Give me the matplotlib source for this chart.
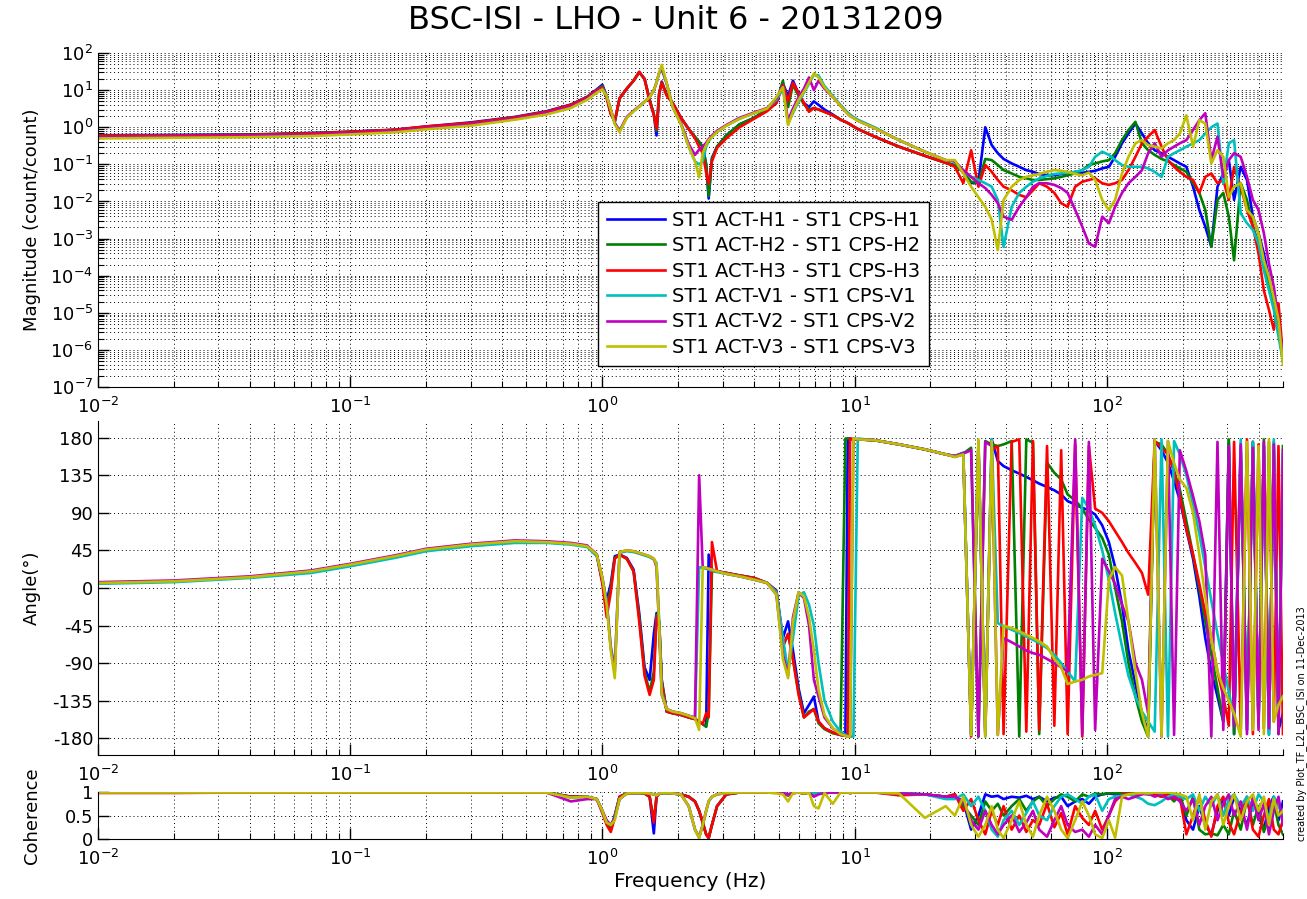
import matplotlib
matplotlib.use('Agg')
import matplotlib.pyplot as plt
from matplotlib.ticker import LogLocator, FixedLocator, NullFormatter
import numpy as np

plt.rcParams['font.family'] = 'DejaVu Sans'
plt.rcParams['mathtext.default'] = 'regular'
plt.rcParams['axes.unicode_minus'] = False

# frequency points (Hz)
freq = [
    0.01, 0.02, 0.04, 0.07, 0.1, 0.15, 0.2, 0.3, 0.45, 0.6,
    0.75, 0.87, 0.95, 1.0, 1.04, 1.08, 1.12, 1.17, 1.25, 1.33,
    1.4, 1.47, 1.54, 1.6, 1.64, 1.68, 1.72, 1.8, 1.9, 2.05,
    2.2, 2.33, 2.42, 2.5, 2.58, 2.64, 2.72, 2.85, 3.1, 3.5,
    4.0, 4.5, 4.9, 5.2, 5.45, 5.7, 6.0, 6.3, 6.6, 6.9,
    7.2, 7.6, 8.2, 8.8, 9.2, 9.4, 9.6, 9.9, 10.3, 12,
    15, 19, 23, 25, 27, 29, 31, 33, 35, 37,
    39, 42, 45, 48, 51, 54, 58, 62, 66, 70,
    75, 80, 85, 90, 96, 102, 108, 115, 122, 130,
    138, 146, 155, 165, 175, 185, 195, 207, 220, 233,
    246, 260, 275, 290, 305, 320, 340, 360, 380, 400,
    420, 440, 460, 480, 500]

# magnitude (count/count)
mag_h1 = [
    0.61, 0.62, 0.64, 0.7, 0.76, 0.86, 1.05, 1.35, 1.9, 2.7,
    4.1, 6.6, 10.5, 14, 7.0, 2.4, 1.4, 6.0, 11, 18,
    31, 20, 5.5, 2.2, 0.6, 8, 17, 7.5, 4.5, 1.8,
    0.9, 0.55, 0.4, 0.3, 0.1, 0.012, 0.15, 0.3, 0.6, 1.2,
    1.8, 3.0, 4.5, 15, 7.0, 18, 8, 4.5, 3.5, 5.0,
    4.0, 3.0, 2.2, 1.6, 1.4, 1.3, 1.2, 1.05, 0.9, 0.56,
    0.3, 0.17, 0.11, 0.095, 0.063, 0.031, 0.034, 1.0, 0.33, 0.2,
    0.14, 0.106, 0.086, 0.07, 0.063, 0.055, 0.051, 0.051, 0.055, 0.057,
    0.059, 0.059, 0.063, 0.067, 0.078, 0.086, 0.16, 0.37, 0.68, 1.26,
    0.68, 0.37, 0.24, 0.2, 0.16, 0.13, 0.106, 0.086, 0.025, 0.0059,
    0.0021, 6e-4, 0.025, 0.057, 0.13, 0.011, 0.086, 0.038, 0.0039, 0.0014,
    4e-4, 9e-5, 1.8e-5, 3.5e-6, 6e-7]
mag_h2 = [
    0.6, 0.61, 0.63, 0.69, 0.75, 0.85, 1.02, 1.3, 1.85, 2.6,
    4.0, 6.4, 10, 13, 7.0, 2.4, 1.4, 6.0, 11, 18,
    30, 20, 5.5, 2.2, 0.8, 8, 16, 7.5, 4.5, 1.8,
    0.9, 0.55, 0.4, 0.3, 0.1, 0.014, 0.14, 0.3, 0.6, 1.2,
    1.8, 3.0, 4.8, 18, 3.5, 14, 7, 4.2, 3.0, 3.3,
    3.0, 2.6, 2.1, 1.6, 1.4, 1.3, 1.2, 1.05, 0.9, 0.56,
    0.3, 0.17, 0.11, 0.095, 0.063, 0.034, 0.031, 0.14, 0.13, 0.096,
    0.07, 0.057, 0.046, 0.042, 0.038, 0.038, 0.04, 0.042, 0.046, 0.051,
    0.057, 0.07, 0.096, 0.106, 0.12, 0.13, 0.2, 0.45, 0.84, 1.4,
    0.37, 0.24, 0.18, 0.14, 0.12, 0.096, 0.078, 0.063, 0.031, 0.017,
    0.0059, 6e-4, 0.011, 0.017, 0.0039, 2.6e-4, 0.031, 0.011, 0.0021, 7.4e-4,
    2.1e-4, 6e-5, 1.8e-5, 3.5e-6, 5e-7]
mag_h3 = [
    0.59, 0.6, 0.62, 0.68, 0.75, 0.85, 1.05, 1.3, 1.85, 2.6,
    4.0, 6.4, 10, 12, 6.0, 2.2, 1.5, 6.0, 11, 18,
    31, 20, 5.0, 2.2, 0.9, 8, 16, 7.0, 4.5, 1.8,
    0.9, 0.5, 0.3, 0.2, 0.06, 0.03, 0.12, 0.28, 0.5, 1.0,
    1.7, 2.7, 4.5, 14, 5.0, 16, 8, 4.5, 2.6, 3.3,
    3.0, 2.6, 2.1, 1.6, 1.4, 1.3, 1.2, 1.05, 0.9, 0.56,
    0.3, 0.17, 0.11, 0.086, 0.031, 0.24, 0.025, 0.096, 0.063, 0.038,
    0.025, 0.02, 0.015, 0.013, 0.02, 0.031, 0.025, 0.017, 0.009, 0.0072,
    0.025, 0.034, 0.038, 0.042, 0.031, 0.028, 0.031, 0.038, 0.07, 0.16,
    0.37, 0.56, 0.84, 0.3, 0.13, 0.086, 0.063, 0.046, 0.038, 0.017,
    0.046, 0.057, 0.031, 0.038, 0.011, 0.086, 0.025, 0.0059, 0.0021, 4e-4,
    4e-5, 1.2e-5, 3.5e-6, 1.8e-5, 7e-7]
mag_v1 = [
    0.53, 0.55, 0.57, 0.61, 0.67, 0.76, 0.92, 1.15, 1.65, 2.3,
    3.4, 5.6, 8.8, 11, 7, 3, 1.3, 0.8, 1.8, 2.7,
    3.6, 4.8, 6.5, 10, 16, 28, 35, 15, 3.5, 1.2,
    0.3, 0.12, 0.1, 0.12, 0.3, 0.42, 0.55, 0.75, 1.1, 1.7,
    2.4, 3.2, 5.5, 11, 1.3, 2.4, 5.0, 8.5, 15, 26,
    25, 13, 7, 4.0, 2.9, 2.5, 2.2, 1.9, 1.6, 1.0,
    0.45, 0.22, 0.13, 0.12, 0.063, 0.046, 0.038, 0.031, 0.025, 0.011,
    6e-4, 0.0072, 0.017, 0.025, 0.034, 0.042, 0.049, 0.055, 0.057, 0.059,
    0.063, 0.07, 0.086, 0.16, 0.22, 0.18, 0.13, 0.096, 0.086, 0.086,
    0.086, 0.078, 0.063, 0.046, 0.16, 0.2, 0.24, 0.3, 0.37, 0.45,
    0.68, 1.0, 1.26, 0.031, 0.37, 0.45, 0.0048, 0.0026, 0.0017, 7.4e-4,
    1.4e-4, 4e-5, 1.2e-5, 2.3e-6, 5e-7]
mag_v2 = [
    0.55, 0.57, 0.59, 0.63, 0.69, 0.78, 0.94, 1.2, 1.7, 2.4,
    3.6, 5.9, 9.2, 11, 7, 3, 1.3, 0.8, 1.9, 2.8,
    3.7, 4.9, 6.6, 10, 16, 30, 40, 15, 3.6, 1.3,
    0.35, 0.18, 0.25, 0.3, 0.38, 0.48, 0.6, 0.8, 1.15, 1.8,
    2.5, 3.3, 6, 13, 1.5, 3.2, 6.5, 11, 22, 10,
    18, 11, 6.5, 3.8, 2.7, 2.3, 2.0, 1.8, 1.5, 0.95,
    0.45, 0.22, 0.13, 0.12, 0.07, 0.046, 0.031, 0.023, 0.015, 0.009,
    0.0039, 0.0032, 0.0072, 0.013, 0.025, 0.031, 0.031, 0.028, 0.023, 0.017,
    0.0059, 0.0021, 7.4e-4, 6e-4, 0.0039, 0.0026, 0.0072, 0.017, 0.031, 0.046,
    0.07, 0.2, 0.37, 0.16, 0.24, 0.3, 0.37, 0.45, 0.84, 1.55,
    2.4, 0.13, 0.56, 0.046, 0.13, 0.2, 0.16, 0.046, 0.011, 0.0059,
    0.0014, 2.1e-4, 5e-5, 6.5e-6, 7e-7]
mag_v3 = [
    0.5, 0.52, 0.54, 0.58, 0.64, 0.73, 0.88, 1.1, 1.6, 2.2,
    3.3, 5.5, 8.5, 10.5, 7, 3, 1.2, 0.74, 1.8, 2.7,
    3.6, 4.8, 6.5, 10, 16, 30, 48, 15, 3.5, 1.2,
    0.3, 0.12, 0.045, 0.2, 0.33, 0.45, 0.55, 0.75, 1.1, 1.7,
    2.4, 3.2, 6.5, 12, 1.15, 2.6, 5.5, 9, 16, 28,
    22, 12, 6.5, 3.8, 2.7, 2.3, 2.0, 1.8, 1.5, 0.95,
    0.45, 0.22, 0.13, 0.13, 0.057, 0.025, 0.013, 0.0072, 0.0032, 4.9e-4,
    0.011, 0.025, 0.038, 0.046, 0.051, 0.055, 0.063, 0.07, 0.067, 0.063,
    0.055, 0.051, 0.06, 0.038, 0.011, 0.0059, 0.011, 0.057, 0.16, 0.37,
    0.45, 0.33, 0.3, 0.27, 0.37, 0.45, 0.68, 2.1, 0.3, 1.55,
    1.26, 0.106, 0.24, 0.16, 0.013, 0.025, 0.031, 0.0059, 0.0039, 0.0014,
    2.6e-4, 9e-5, 2.5e-5, 6.5e-6, 4e-7]

# phase (deg)
ph_h1 = [
    6, 8, 13, 20, 28, 38, 46, 52, 56, 55,
    53, 50, 40, 8, -15, 5, 38, 40, 36, 22,
    -30, -95, -110, -55, -30, -40, -110, -148, -150, -152,
    -155, -157, -160, -163, -166, 40, 22, 20, 18, 15,
    12, 6, -3, -60, -40, -75, -120, -150, -140, -130,
    -160, -168, -173, -176, -177, 179, 179, 178, 178, 177,
    172, 166, 160, 158, 162, -175, 170, -172, 178, 152,
    146, 141, 137, 133, 129, 125, 121, 117, 112, 104,
    100, 96, 93, 88, 75, 55, 25, -20, -75, -115,
    -150, -172, 176, 165, 150, 128, 105, 70, 35, -10,
    -60, -100, -130, -160, 175, -175, 160, -170, 175, -160,
    170, -175, 165, -170, -150]
ph_h2 = [
    6, 8, 13, 20, 28, 38, 46, 52, 56, 55,
    53, 50, 40, 8, -25, 0, 36, 40, 35, 20,
    -35, -100, -125, -100, -32, -42, -112, -148, -150, -152,
    -155, -157, -160, -163, -166, -150, 20, 20, 18, 15,
    12, 6, -4, -70, -55, -85, -125, -155, -148, -145,
    -162, -169, -174, -176, 179, 179, 178, 178, 178, 177,
    172, 166, 160, 158, 161, 168, -178, 176, 172, 170,
    172, 176, -178, 178, 174, -175, 150, 138, 130, 112,
    105, 95, 82, 72, 60, 40, 0, -40, -90, -130,
    -160, -178, 175, 172, 160, 140, 118, 80, 40, 0,
    -40, -80, -120, -160, 178, -175, 170, -160, 175, -165,
    178, -170, 175, -175, 170]
ph_h3 = [
    6, 8, 13, 20, 28, 38, 46, 52, 56, 55,
    53, 50, 40, 5, -35, -5, 35, 40, 35, 20,
    -40, -105, -128, -110, -35, -45, -115, -148, -150, -152,
    -155, -157, -160, -163, -150, -155, 55, 20, 18, 15,
    12, 6, -4, -70, -55, -85, -128, -155, -150, -145,
    -160, -168, -173, -176, -177, -177, 179, 178, 178, 177,
    172, 166, 160, 157, 160, -178, 176, -176, 165, 170,
    -175, 175, 178, -172, 176, -170, 170, -165, 165, -175,
    172, -178, 170, 95, 90, 80, 68, 55, 42, 30,
    18, -8, 176, 168, 160, 140, 110, 70, 40, 5,
    -30, -60, -100, -130, -165, 175, -170, 178, -175, 172,
    -168, 175, -160, 170, -175]
ph_v1 = [
    5, 7, 12, 18, 26, 36, 44, 50, 54, 54,
    52, 49, 38, 12, -15, -70, -95, 42, 44, 43,
    41, 39, 37, 34, 30, -40, -125, -145, -148, -150,
    -153, -156, 25, 24, 23, 22, 21, 19, 17, 14,
    10, 6, -5, -60, -100, -60, -10, -5, -20, -45,
    -90, -135, -160, -172, -176, -177, -178, -178, 179, 177,
    172, 166, 160, 158, 161, -176, 175, -178, 178, -42,
    -46, -50, -54, -58, -62, -66, -72, -80, -90, -100,
    -112, 108, 95, 75, 45, 10, -30, -70, -105, -130,
    -148, -160, -172, 178, -178, 176, 160, 135, 100, 65,
    25, -15, -55, -90, -125, -155, 178, -170, 175, -165,
    170, -176, 178, -160, 160]
ph_v2 = [
    7, 9, 14, 21, 29, 39, 47, 53, 57, 56,
    54, 51, 40, 12, -18, -72, -100, 43, 45, 44,
    42, 40, 38, 35, 25, -50, -128, -145, -148, -150,
    -153, -155, 135, 25, 24, 23, 22, 20, 17, 14,
    10, 6, -8, -80, -105, -35, -5, -12, -45, -110,
    -130, -155, -168, -175, -177, -178, -178, 179, 178, 177,
    172, 166, 160, 158, 161, 165, -178, 175, 170, -176,
    -60, -65, -70, -75, -78, -80, -85, -90, -95, -100,
    178, -175, 175, -170, 35, 20, 5, -20, -40, -90,
    -110, -150, 178, -178, 176, -176, 165, 140, 110, 80,
    40, -178, 175, -170, 170, -165, 172, -175, 168, -170,
    175, -168, 172, -175, 165]
ph_v3 = [
    6, 8, 13, 20, 28, 38, 46, 52, 56, 55,
    53, 50, 40, 12, -20, -75, -108, 43, 45, 44,
    42, 40, 38, 35, 28, -45, -128, -145, -148, -150,
    -153, -156, -170, 25, 24, 23, 22, 20, 17, 14,
    10, 6, -8, -85, -108, -40, -5, -10, -35, -75,
    -122, -152, -168, -175, -177, -178, -178, 179, 178, 177,
    172, 166, 160, 157, 160, -176, 178, -178, 176, -176,
    -45, -48, -52, -56, -60, -64, -70, -85, -95, -115,
    -112, -110, -106, -104, -102, 10, 25, 15, -40, -100,
    -150, -178, 178, -178, 176, 150, 130, 120, 90, 40,
    -10, -60, -100, -120, -135, -150, -178, 175, -170, 170,
    -175, 178, -160, -140, -130]

# coherence
coh_h1 = [
    0.99, 0.99, 0.99, 0.99, 0.99, 0.99, 0.99, 0.99, 0.99, 0.99,
    0.9, 0.9, 0.85, 0.6, 0.35, 0.2, 0.5, 0.9, 0.97, 0.98,
    0.98, 0.97, 0.9, 0.12, 0.9, 0.97, 0.98, 0.98, 0.97, 0.95,
    0.9, 0.8, 0.6, 0.35, 0.1, 0.02, 0.3, 0.7, 0.95, 0.99,
    0.99, 0.99, 0.99, 0.97, 0.93, 0.98, 0.99, 0.97, 0.99, 0.95,
    0.98, 0.98, 0.99, 0.99, 0.99, 0.99, 0.98, 0.99, 0.99, 0.99,
    0.97, 0.95, 0.9, 0.9, 0.8, 0.2, 0.5, 0.95, 0.9, 0.92,
    0.85, 0.9, 0.88, 0.92, 0.85, 0.9, 0.8, 0.88, 0.9, 0.7,
    0.8, 0.85, 0.75, 0.9, 0.95, 0.97, 0.95, 0.97, 0.98, 0.99,
    0.97, 0.95, 0.97, 0.96, 0.95, 0.9, 0.92, 0.4, 0.2, 0.7,
    0.3, 0.1, 0.6, 0.85, 0.5, 0.9, 0.6, 0.3, 0.8, 0.5,
    0.2, 0.7, 0.9, 0.4, 0.8]
coh_h2 = [
    0.99, 0.99, 0.99, 0.99, 0.99, 0.99, 0.99, 0.99, 0.99, 0.99,
    0.9, 0.9, 0.85, 0.6, 0.35, 0.22, 0.5, 0.9, 0.97, 0.98,
    0.98, 0.97, 0.9, 0.4, 0.9, 0.97, 0.98, 0.98, 0.97, 0.95,
    0.9, 0.8, 0.6, 0.35, 0.1, 0.03, 0.3, 0.7, 0.95, 0.99,
    0.99, 0.99, 0.99, 0.97, 0.93, 0.98, 0.99, 0.97, 0.99, 0.95,
    0.98, 0.98, 0.99, 0.99, 0.99, 0.99, 0.98, 0.99, 0.99, 0.99,
    0.97, 0.95, 0.9, 0.95, 0.7, 0.5, 0.3, 0.8, 0.6, 0.75,
    0.5, 0.7, 0.85, 0.6, 0.8, 0.9, 0.7, 0.85, 0.95, 0.9,
    0.8, 0.95, 0.9, 0.97, 0.95, 0.98, 0.97, 0.98, 0.99, 0.99,
    0.97, 0.96, 0.95, 0.9, 0.93, 0.8, 0.95, 0.5, 0.9, 0.2,
    0.1, 0.12, 0.08, 0.3, 0.1, 0.6, 0.2, 0.85, 0.3, 0.7,
    0.15, 0.5, 0.8, 0.3, 0.1]
coh_h3 = [
    0.98, 0.98, 0.99, 0.99, 0.99, 0.99, 0.99, 0.99, 0.99, 0.99,
    0.9, 0.9, 0.85, 0.55, 0.3, 0.15, 0.45, 0.9, 0.97, 0.98,
    0.98, 0.97, 0.9, 0.35, 0.9, 0.97, 0.98, 0.98, 0.97, 0.95,
    0.9, 0.8, 0.6, 0.35, 0.1, 0.02, 0.3, 0.7, 0.95, 0.99,
    0.99, 0.99, 0.99, 0.97, 0.93, 0.98, 0.99, 0.97, 0.99, 0.95,
    0.98, 0.98, 0.99, 0.99, 0.99, 0.99, 0.98, 0.99, 0.99, 0.99,
    0.93, 0.95, 0.9, 0.95, 0.6, 0.85, 0.4, 0.1, 0.6, 0.3,
    0.7, 0.2, 0.5, 0.15, 0.4, 0.3, 0.75, 0.25, 0.55, 0.1,
    0.7, 0.45, 0.3, 0.6, 0.2, 0.5, 0.8, 0.95, 0.97, 0.95,
    0.97, 0.98, 0.95, 0.9, 0.95, 0.85, 0.9, 0.1, 0.5, 0.9,
    0.4, 0.05, 0.7, 0.9, 0.35, 0.1, 0.6, 0.9, 0.2, 0.05,
    0.5, 0.85, 0.2, 0.1, 0.4]
coh_v1 = [
    0.99, 0.99, 0.99, 0.99, 0.99, 0.99, 0.99, 0.99, 0.99, 0.99,
    0.88, 0.9, 0.85, 0.6, 0.35, 0.3, 0.45, 0.85, 0.97, 0.98,
    0.98, 0.98, 0.97, 0.95, 0.93, 0.97, 0.98, 0.98, 0.97, 0.95,
    0.7, 0.2, 0.02, 0.3, 0.6, 0.8, 0.9, 0.95, 0.98, 0.99,
    0.99, 0.99, 0.99, 0.98, 0.95, 0.98, 0.99, 0.98, 0.99, 0.97,
    0.97, 0.98, 0.99, 0.99, 0.99, 0.99, 0.98, 0.99, 0.99, 0.99,
    0.97, 0.95, 0.85, 0.85, 0.95, 0.7, 0.9, 0.6, 0.2, 0.05,
    0.4, 0.6, 0.3, 0.55, 0.8, 0.5, 0.4, 0.7, 0.9, 0.95,
    0.85, 0.75, 0.9, 0.95, 0.6, 0.85, 0.9, 0.92, 0.95, 0.9,
    0.85, 0.75, 0.72, 0.8, 0.9, 0.95, 0.9, 0.85, 0.95, 0.6,
    0.9, 0.7, 0.95, 0.5, 0.85, 0.95, 0.7, 0.9, 0.6, 0.95,
    0.8, 0.4, 0.9, 0.7, 0.5]
coh_v2 = [
    0.99, 0.99, 0.99, 0.99, 0.99, 0.99, 0.99, 0.99, 0.99, 0.99,
    0.8, 0.85, 0.85, 0.6, 0.4, 0.3, 0.45, 0.85, 0.97, 0.98,
    0.98, 0.98, 0.97, 0.95, 0.93, 0.97, 0.98, 0.98, 0.97, 0.95,
    0.7, 0.2, 0.05, 0.3, 0.6, 0.8, 0.9, 0.95, 0.98, 0.99,
    0.99, 0.99, 0.99, 0.98, 0.95, 0.98, 0.99, 0.98, 0.99, 0.9,
    0.95, 0.98, 0.99, 0.99, 0.99, 0.99, 0.98, 0.99, 0.99, 0.99,
    0.97, 0.95, 0.9, 0.9, 0.8, 0.4, 0.2, 0.6, 0.3, 0.1,
    0.3, 0.5, 0.15, 0.35, 0.6, 0.2, 0.05, 0.4, 0.7, 0.3,
    0.15, 0.2, 0.05, 0.3, 0.1, 0.5, 0.85, 0.9, 0.85, 0.9,
    0.95, 0.97, 0.9, 0.95, 0.85, 0.9, 0.8, 0.6, 0.85, 0.3,
    0.7, 0.9, 0.4, 0.75, 0.95, 0.5, 0.8, 0.2, 0.9, 0.4,
    0.75, 0.1, 0.6, 0.9, 0.3]
coh_v3 = [
    0.99, 0.99, 0.99, 0.99, 0.99, 0.99, 0.99, 0.99, 0.99, 0.99,
    0.88, 0.9, 0.85, 0.6, 0.35, 0.3, 0.4, 0.85, 0.97, 0.98,
    0.98, 0.98, 0.97, 0.95, 0.93, 0.97, 0.98, 0.98, 0.97, 0.95,
    0.7, 0.2, 0.02, 0.3, 0.6, 0.8, 0.9, 0.95, 0.98, 0.99,
    0.99, 0.99, 0.97, 0.95, 0.8, 0.98, 0.99, 0.97, 0.99, 0.7,
    0.65, 0.98, 0.75, 0.99, 0.99, 0.99, 0.98, 0.99, 0.99, 0.99,
    0.97, 0.45, 0.7, 0.5, 0.9, 0.3, 0.05, 0.3, 0.7, 0.2,
    0.02, 0.4, 0.8, 0.3, 0.05, 0.5, 0.9, 0.6, 0.2, 0.02,
    0.4, 0.8, 0.5, 0.1, 0.02, 0.4, 0.03, 0.9, 0.95, 0.97,
    0.98, 0.97, 0.99, 0.98, 0.99, 0.97, 0.95, 0.9, 0.4, 0.95,
    0.2, 0.8, 0.95, 0.3, 0.7, 0.95, 0.4, 0.8, 0.95, 0.6,
    0.9, 0.3, 0.85, 0.5, 0.6]

labels = ['ST1 ACT-H1 - ST1 CPS-H1', 'ST1 ACT-H2 - ST1 CPS-H2',
          'ST1 ACT-H3 - ST1 CPS-H3', 'ST1 ACT-V1 - ST1 CPS-V1',
          'ST1 ACT-V2 - ST1 CPS-V2', 'ST1 ACT-V3 - ST1 CPS-V3']
mags = [mag_h1, mag_h2, mag_h3, mag_v1, mag_v2, mag_v3]
phases = [ph_h1, ph_h2, ph_h3, ph_v1, ph_v2, ph_v3]
cohs = [coh_h1, coh_h2, coh_h3, coh_v1, coh_v2, coh_v3]
colors = ['#0000ff', '#008000', '#ff0000', '#00bfbf', '#bf00bf', '#bfbf00']

fig = plt.figure(figsize=(13.07, 8.99), dpi=100)
ax_mag = fig.add_axes([0.075, 0.5695, 0.9066, 0.3715])
ax_ph = fig.add_axes([0.075, 0.1602, 0.9066, 0.3715])
ax_coh = fig.add_axes([0.075, 0.0667, 0.9066, 0.0523])

lines = []
for m, p, c, col, lab in zip(mags, phases, cohs, colors, labels):
    l, = ax_mag.plot(freq, m, color=col, lw=1.9, label=lab)
    lines.append(l)
    ax_ph.plot(freq, p, color=col, lw=1.9)
    ax_coh.plot(freq, c, color=col, lw=1.9)

dots = (0, (1, 3))
for ax in [ax_mag, ax_ph, ax_coh]:
    ax.set_xscale('log')
    ax.set_xlim(0.01, 500)
    ax.spines['top'].set_visible(False)
    ax.spines['right'].set_visible(False)
    ax.xaxis.set_major_locator(FixedLocator([0.01, 0.1, 1, 10, 100]))
    ax.xaxis.set_minor_locator(LogLocator(base=10, subs=np.arange(2, 10), numticks=30))
    ax.xaxis.set_minor_formatter(NullFormatter())
    ax.tick_params(which='both', direction='in', top=False, right=False, labelsize=13)
    ax.tick_params(which='major', length=8, width=1)
    ax.tick_params(which='minor', length=4, width=0.8)
    ax.tick_params(axis='x', pad=7)
    ax.grid(True, which='both', linestyle=dots, color='k', linewidth=0.7)
    ax.yaxis.set_label_coords(-0.048, 0.5)

ax_mag.set_yscale('log')
ax_mag.set_ylim(1e-7, 1e2)
ax_mag.yaxis.set_major_locator(FixedLocator([1e-7, 1e-6, 1e-5, 1e-4, 1e-3, 1e-2, 1e-1, 1, 10, 100]))
ax_mag.yaxis.set_minor_locator(LogLocator(base=10, subs=np.arange(2, 10), numticks=30))
ax_mag.yaxis.set_minor_formatter(NullFormatter())
ax_mag.set_ylabel('Magnitude (count/count)', fontsize=13)

ax_ph.set_ylim(-200, 200)
ax_ph.set_yticks([-180, -135, -90, -45, 0, 45, 90, 135, 180])
ax_ph.set_ylabel('Angle(°)', fontsize=13)

ax_coh.set_ylim(0, 1)
ax_coh.set_yticks([0, 0.5, 1])
ax_coh.set_yticklabels(['0', '0.5', '1'])
ax_coh.set_ylabel('Coherence', fontsize=13)
ax_coh.set_xlabel('Frequency (Hz)', fontsize=14.5, labelpad=2)

leg = ax_mag.legend(handles=lines, loc='upper left', bbox_to_anchor=(598 / 1307, 1 - 202 / 899),
                    bbox_transform=fig.transFigure, borderaxespad=0, fontsize=14,
                    fancybox=False, framealpha=1, edgecolor='k', handlelength=3.0,
                    handletextpad=0.35, labelspacing=0.33, borderpad=0.45)
leg.get_frame().set_linewidth(1.0)

fig.text(0.517, 0.977, 'BSC-ISI - LHO - Unit 6 - 20131209', ha='center', va='center', fontsize=23)
fig.text(0.9955, 0.195, 'created by Plot_TF_L2L_BSC_ISI on 11-Dec-2013', rotation=90,
         ha='center', va='center', fontsize=7)

fig.savefig('out.png', dpi=100)
